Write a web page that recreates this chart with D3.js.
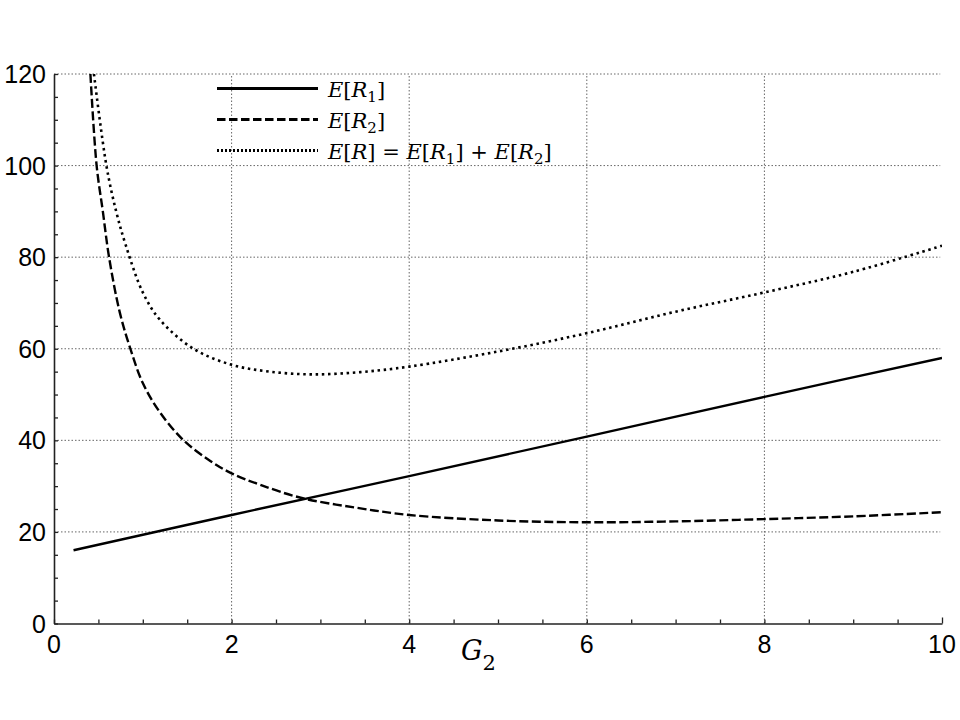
<!DOCTYPE html>
<html><head><meta charset="utf-8">
<script src="https://cdn.jsdelivr.net/npm/d3@7"></script>
<style>body{margin:0;background:#fff}svg{display:block}</style>
</head><body>
<svg id="c" width="960" height="720"></svg>
<script>
// Data
const r1X = [0.22, 2, 4, 6, 8, 10];
const r1Y = [16.0, 23.7, 32.2, 40.8, 49.5, 58.0];

const r2X = [0.41, 0.48, 0.55, 0.62, 0.74, 0.86, 1.0, 1.19, 1.46, 1.76, 2.0, 2.32, 2.79, 3.4, 4.0, 5.0, 6.0, 7.0, 8.0, 9.0, 10.0];
const r2Y = [120, 100, 90, 80, 68, 60, 52.5, 46.2, 40, 35.5, 32.8, 30.3, 27.4, 25.3, 23.7, 22.5, 22.1, 22.3, 22.8, 23.4, 24.3];

const rX = [0.45, 0.59, 0.70, 0.81, 1.0, 1.19, 1.57, 2.0, 2.43, 2.92, 3.45, 4.0, 5.0, 6.0, 7.0, 8.0, 9.0, 10.0];
const rY = [120, 100, 90, 82.5, 72.3, 66.4, 60, 56.5, 55.0, 54.4, 54.9, 56.1, 59.4, 63.4, 68.1, 72.3, 76.8, 82.5];

const xMajor = [0, 2, 4, 6, 8, 10];
const yMajor = [0, 20, 40, 60, 80, 100, 120];
const xMinor = d3.range(0, 10.01, 0.5);
const yMinor = d3.range(0, 120.01, 5);

const svg = d3.select("#c");
const x = d3.scaleLinear().domain([0, 10]).range([54, 942]);
const y = d3.scaleLinear().domain([0, 120]).range([623.5, 74]);

// grid
const grid = svg.append("g").attr("stroke", "#666").attr("stroke-width", 1).attr("stroke-dasharray", "1.5,2");
grid.selectAll("line.h").data(yMajor.filter(v => v > 0)).join("line")
  .attr("x1", x(0)).attr("x2", x(9.98)).attr("y1", d => y(d)).attr("y2", d => y(d));
grid.selectAll("line.v").data(xMajor.filter(v => v > 0 && v < 10)).join("line")
  .attr("x1", d => x(d)).attr("x2", d => x(d)).attr("y1", y(0)).attr("y2", y(120));

// axes
const xAxis = d3.axisBottom(x).tickValues(xMinor).tickSizeInner(-4).tickSizeOuter(0).tickFormat("");
const yAxis = d3.axisLeft(y).tickValues(yMinor).tickSizeInner(-4).tickSizeOuter(0).tickFormat("");
const gx = svg.append("g").attr("transform", `translate(0,${y(0)})`).call(xAxis);
const gy = svg.append("g").attr("transform", `translate(${x(0)},0)`).call(yAxis);
[gx, gy].forEach(g => { g.select(".domain").attr("stroke", "#222").attr("stroke-width", 1.6); g.selectAll(".tick line").attr("stroke", "#222").attr("stroke-width", 1.3); });
gx.selectAll(".tick").filter(d => d === 10).select("line").attr("y2", -6);

// tick labels
svg.append("g").selectAll("text").data(xMajor).join("text")
  .attr("x", d => x(d)).attr("y", 653).attr("text-anchor", "middle")
  .attr("font-family", "Liberation Sans, Arial, sans-serif").attr("font-size", 25).attr("fill", "#000")
  .text(d => d);
svg.append("g").selectAll("text").data(yMajor).join("text")
  .attr("x", 46).attr("y", d => y(d) + 9).attr("text-anchor", "end")
  .attr("font-family", "Liberation Sans, Arial, sans-serif").attr("font-size", 25).attr("fill", "#000")
  .text(d => d);

// x axis label G_2
const xl = svg.append("text").attr("x", 461).attr("y", 660)
  .attr("font-family", "DejaVu Serif, Liberation Serif, serif").attr("fill", "#000");
xl.append("tspan").attr("font-style", "italic").attr("font-size", 27).text("G");
xl.append("tspan").attr("font-size", 21).attr("dy", 10).text("2");

// curves
svg.append("clipPath").attr("id", "clip").append("rect")
  .attr("x", x(0)).attr("y", y(120)).attr("width", x(10) - x(0)).attr("height", y(0) - y(120));
const line = d3.line().x(d => x(d[0])).y(d => y(d[1])).curve(d3.curveCatmullRom.alpha(0.5));
const plot = svg.append("g").attr("clip-path", "url(#clip)").attr("fill", "none").attr("stroke", "#000");
plot.append("path").datum(d3.zip(r1X, r1Y)).attr("d", line).attr("stroke-width", 2.4);
plot.append("path").datum(d3.zip(r2X, r2Y)).attr("d", line).attr("stroke-width", 2.4).attr("stroke-dasharray", "9,3.5");
plot.append("path").datum(d3.zip(rX, rY)).attr("d", line).attr("stroke-width", 2.6).attr("stroke-dasharray", "2.5,3.7");

// legend
const leg = svg.append("g");
const legItems = [
  {dash: null, yy: 88.5},
  {dash: "8.5,3.5", yy: 119.5},
  {dash: "2,2", yy: 150.5}
];
leg.selectAll("line").data(legItems).join("line")
  .attr("x1", 217).attr("x2", 318).attr("y1", d => d.yy).attr("y2", d => d.yy)
  .attr("stroke", "#000").attr("stroke-width", 3)
  .attr("stroke-dasharray", d => d.dash);

function mathText(yy, parts) {
  const t = leg.append("text").attr("x", 328).attr("y", yy + 8)
    .attr("font-family", "DejaVu Serif, Liberation Serif, serif").attr("font-size", 21).attr("fill", "#000");
  parts.forEach(p => {
    const s = t.append("tspan").text(p[0]);
    if (p[1] === "i") s.attr("font-style", "italic");
    if (p[1] === "sub") s.attr("font-size", 15).attr("dy", 5);
    if (p[1] === "up") s.attr("dy", -5);
  });
}
mathText(88.5, [["E","i"],["["],["R","i"],["1","sub"],["]","up"]]);
mathText(119.5, [["E","i"],["["],["R","i"],["2","sub"],["]","up"]]);
mathText(150.5, [["E","i"],["["],["R","i"],["] = "],["E","i"],["["],["R","i"],["1","sub"],["] + ","up"],["E","i"],["["],["R","i"],["2","sub"],["]","up"]]);
</script>
</body></html>
